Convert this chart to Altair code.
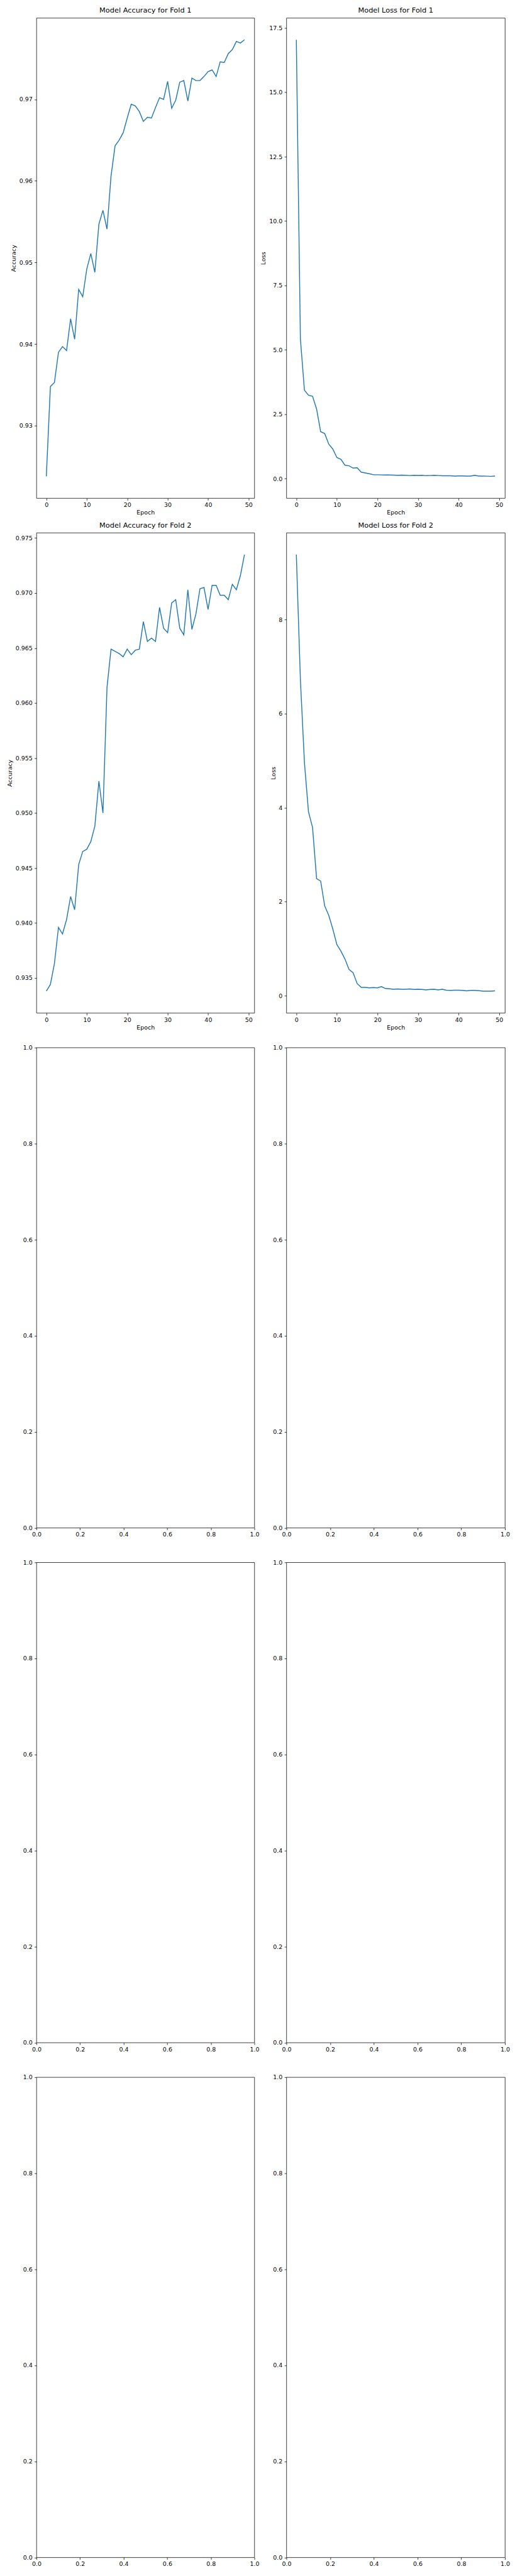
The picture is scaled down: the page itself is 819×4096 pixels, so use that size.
import altair as alt
import pandas as pd

# ---- data ----
epochs = list(range(50))

acc_fold1 = [0.9238, 0.9348, 0.9353, 0.9390, 0.9397, 0.9392, 0.9431, 0.9406, 0.9467, 0.9458,
             0.9492, 0.9511, 0.9488, 0.9547, 0.9564, 0.9541, 0.9606, 0.9643, 0.9650, 0.9659,
             0.9677, 0.9694, 0.9692, 0.9685, 0.9673, 0.9678, 0.9677, 0.9690, 0.9702, 0.9700,
             0.9722, 0.9689, 0.9699, 0.9721, 0.9723, 0.9698, 0.9726, 0.9723, 0.9723, 0.9728,
             0.9734, 0.9736, 0.9728, 0.9746, 0.9745, 0.9756, 0.9761, 0.9771, 0.9769, 0.9773]

loss_fold1 = [17.04, 5.44, 3.43, 3.24, 3.20, 2.70, 1.82, 1.75, 1.34, 1.15,
              0.82, 0.75, 0.52, 0.50, 0.41, 0.42, 0.25, 0.22, 0.19, 0.15,
              0.15, 0.145, 0.14, 0.14, 0.135, 0.13, 0.135, 0.13, 0.12, 0.13,
              0.125, 0.13, 0.115, 0.12, 0.13, 0.12, 0.11, 0.11, 0.11, 0.10,
              0.105, 0.105, 0.10, 0.10, 0.13, 0.10, 0.10, 0.095, 0.09, 0.10]

acc_fold2 = [0.9338, 0.9344, 0.9363, 0.9396, 0.9390, 0.9403, 0.9424, 0.9412, 0.9453, 0.9465,
             0.9467, 0.9474, 0.9488, 0.9529, 0.9500, 0.9614, 0.9649, 0.9647, 0.9645, 0.9642,
             0.9649, 0.9644, 0.9648, 0.9649, 0.9674, 0.9656, 0.9659, 0.9656, 0.9687, 0.9668,
             0.9664, 0.9691, 0.9694, 0.9668, 0.9662, 0.9703, 0.9667, 0.9681, 0.9704, 0.9705,
             0.9685, 0.9707, 0.9707, 0.9698, 0.9698, 0.9694, 0.9708, 0.9703, 0.9716, 0.9735]

loss_fold2 = [9.38, 6.73, 4.96, 3.91, 3.58, 2.49, 2.44, 1.91, 1.71, 1.42,
              1.09, 0.95, 0.78, 0.56, 0.49, 0.26, 0.18, 0.18, 0.17, 0.175,
              0.17, 0.195, 0.155, 0.15, 0.14, 0.145, 0.14, 0.14, 0.145, 0.135,
              0.14, 0.135, 0.125, 0.135, 0.14, 0.125, 0.14, 0.12, 0.115, 0.12,
              0.12, 0.115, 0.105, 0.115, 0.115, 0.11, 0.10, 0.10, 0.10, 0.105]

x_ticks = [0, 10, 20, 30, 40, 50]
acc1_ticks = [0.93, 0.94, 0.95, 0.96, 0.97, 0.98]
loss1_ticks = [0.0, 2.5, 5.0, 7.5, 10.0, 12.5, 15.0, 17.5]
acc2_ticks = [0.935, 0.940, 0.945, 0.950, 0.955, 0.960, 0.965, 0.970, 0.975]
loss2_ticks = [0, 2, 4, 6, 8]
unit_ticks = [0.0, 0.2, 0.4, 0.6, 0.8, 1.0]

S = 0.682
LINE_COLOR = "#1f77b4"
FONT = "DejaVu Sans"
W1, W2, H = 347, 348, 764.5


def margin_domain(vals):
    lo, hi = min(vals), max(vals)
    m = 0.05 * (hi - lo)
    return [lo - m, hi + m]


x_dom = margin_domain(epochs)


def data_panel(values, title, ytitle, yticks, yfmt, width):
    df = pd.DataFrame({"Epoch": epochs, "v": values})
    return alt.Chart(df).mark_line(color=LINE_COLOR, strokeWidth=1.5 * 1.389 * S).encode(
        x=alt.X("Epoch:Q",
                scale=alt.Scale(domain=x_dom, nice=False, zero=False),
                axis=alt.Axis(values=x_ticks, format="d", title="Epoch")),
        y=alt.Y("v:Q",
                scale=alt.Scale(domain=margin_domain(values), nice=False, zero=False),
                axis=alt.Axis(values=yticks, format=yfmt, title=ytitle)),
    ).properties(width=width, height=H, title=title)


def empty_panel(width):
    return alt.Chart(alt.InlineData(values=[])).mark_point().encode(
        x=alt.X("x:Q", scale=alt.Scale(domain=[0, 1], nice=False, zero=False),
                axis=alt.Axis(values=unit_ticks, format=".1f", title=None)),
        y=alt.Y("y:Q", scale=alt.Scale(domain=[0, 1], nice=False, zero=False),
                axis=alt.Axis(values=unit_ticks, format=".1f", title=None)),
    ).properties(width=width, height=H)


panels = [
    data_panel(acc_fold1, "Model Accuracy for Fold 1", "Accuracy", acc1_ticks, ".2f", W1),
    data_panel(loss_fold1, "Model Loss for Fold 1", "Loss", loss1_ticks, ".1f", W2),
    data_panel(acc_fold2, "Model Accuracy for Fold 2", "Accuracy", acc2_ticks, ".3f", W1),
    data_panel(loss_fold2, "Model Loss for Fold 2", "Loss", loss2_ticks, "d", W2),
]
for _ in range(3):
    panels.append(empty_panel(W1))
    panels.append(empty_panel(W2))

chart = alt.concat(*panels, columns=2, spacing={"row": 54.6, "column": 51}).properties(
    bounds="flush",
    padding={"left": 2, "top": 0, "right": 0, "bottom": 0},
    background="white",
).configure_view(
    stroke="black", strokeWidth=0.8 * 1.389 * S, fill="white"
).configure_axis(
    domain=False, grid=False,
    ticks=True, tickColor="black", tickSize=3.5 * 1.389 * S, tickWidth=0.8 * 1.389 * S,
    labelColor="black", labelFont=FONT, labelFontSize=10 * 1.389 * S,
    labelPadding=3.5 * 1.389 * S, labelFlush=False, labelOverlap=False,
    titleColor="black", titleFont=FONT, titleFontSize=10 * 1.389 * S,
    titleFontWeight="normal", titlePadding=4 * 1.389 * S,
).configure_title(
    font=FONT, fontSize=12 * 1.389 * S, fontWeight="normal", color="black",
    anchor="middle", frame="group", offset=6 * 1.389 * S,
)

chart.save("out.html", embed_options={"renderer": "svg", "actions": False})
